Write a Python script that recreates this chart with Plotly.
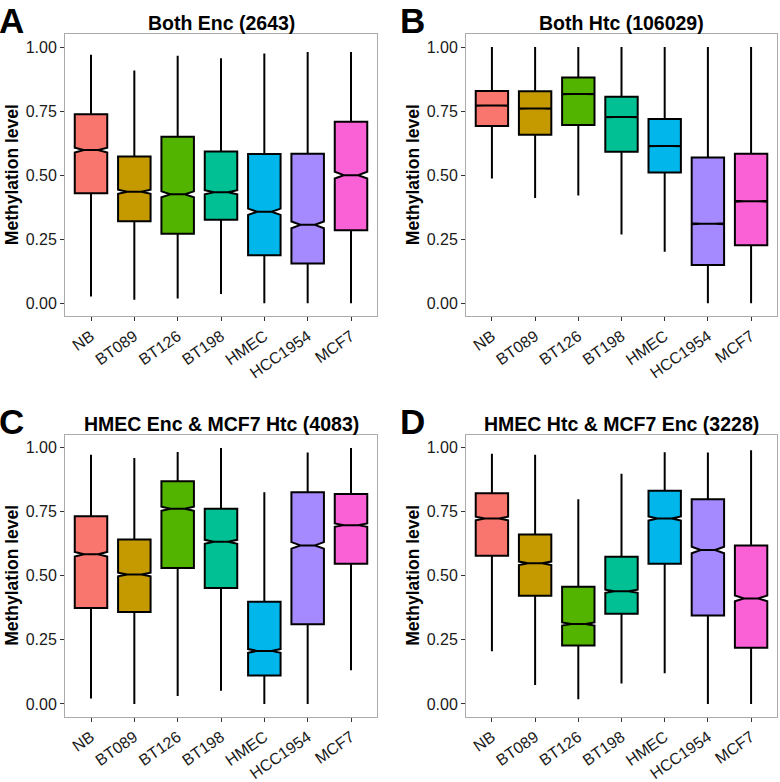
import math
import plotly.graph_objects as go

categories = ["NB", "BT089", "BT126", "BT198", "HMEC", "HCC1954", "MCF7"]
colors = ["#F8766D", "#C49A00", "#53B400", "#00C094", "#00B6EB", "#A58AFF", "#FB61D7"]

panel_titles = ["Both Enc (2643)", "Both Htc (106029)",
                "HMEC Enc & MCF7 Htc (4083)", "HMEC Htc & MCF7 Enc (3228)"]
panel_letters = ["A", "B", "C", "D"]
panel_n = [2643, 106029, 4083, 3228]

# Panel A
a_low = [0.026, 0.013, 0.018, 0.036, 0.0, 0.0, 0.0]
a_q1 = [0.429, 0.320, 0.271, 0.326, 0.187, 0.155, 0.285]
a_med = [0.598, 0.435, 0.425, 0.433, 0.357, 0.306, 0.500]
a_q3 = [0.738, 0.573, 0.650, 0.592, 0.583, 0.584, 0.709]
a_up = [0.970, 0.909, 0.966, 0.956, 0.975, 0.981, 0.981]

# Panel B
b_low = [0.487, 0.411, 0.421, 0.268, 0.201, 0.0, 0.0]
b_q1 = [0.692, 0.658, 0.696, 0.591, 0.510, 0.149, 0.226]
b_med = [0.772, 0.760, 0.817, 0.727, 0.614, 0.310, 0.398]
b_q3 = [0.829, 0.828, 0.881, 0.806, 0.719, 0.569, 0.584]
b_up = [1.0, 1.0, 1.0, 1.0, 1.0, 1.0, 1.0]

# Panel C
c_low = [0.021, 0.0, 0.031, 0.051, 0.0, 0.0, 0.131]
c_q1 = [0.374, 0.359, 0.531, 0.453, 0.111, 0.311, 0.547]
c_med = [0.584, 0.505, 0.762, 0.633, 0.207, 0.619, 0.698]
c_q3 = [0.733, 0.642, 0.869, 0.762, 0.399, 0.826, 0.820]
c_up = [0.973, 0.960, 0.984, 0.999, 0.826, 0.982, 0.999]

# Panel D
d_low = [0.206, 0.074, 0.018, 0.080, 0.120, 0.0, 0.0]
d_q1 = [0.578, 0.422, 0.228, 0.352, 0.547, 0.345, 0.219]
d_med = [0.724, 0.549, 0.312, 0.440, 0.724, 0.601, 0.412]
d_q3 = [0.823, 0.661, 0.457, 0.575, 0.832, 0.799, 0.619]
d_up = [0.977, 0.973, 0.799, 0.899, 0.983, 0.982, 0.990]

panels = [
    (a_low, a_q1, a_med, a_q3, a_up),
    (b_low, b_q1, b_med, b_q3, b_up),
    (c_low, c_q1, c_med, c_q3, c_up),
    (d_low, d_q1, d_med, d_q3, d_up),
]

W, H = 780, 782
FONT = "Liberation Sans, Arial, sans-serif"

# pixel layout of the panels (left, right, top, bottom)
boxes_px = [(65, 377, 34.3, 316), (466, 777, 34.3, 316),
            (65, 377, 435, 716.7), (466, 777, 435, 716.7)]

fig = go.Figure()
annotations = []
for p, (low, q1, med, q3, up) in enumerate(panels):
    ax = "" if p == 0 else str(p + 1)
    for i, cat in enumerate(categories):
        span = 1.58 * (q3[i] - q1[i]) / math.sqrt(panel_n[p])
        fig.add_trace(go.Box(
            x=[cat], q1=[q1[i]], median=[med[i]], q3=[q3[i]],
            lowerfence=[low[i]], upperfence=[up[i]],
            notched=True, notchspan=[span], notchwidth=0.28,
            width=0.75, whiskerwidth=0,
            fillcolor=colors[i], line=dict(color="black", width=2),
            boxpoints=False, showlegend=False, hoverinfo="skip",
            xaxis="x" + ax, yaxis="y" + ax,
        ))
    l, r, t, b = boxes_px[p]
    xd = [l / W, r / W]
    yd = [1 - b / H, 1 - t / H]
    common = dict(showline=True, mirror=True, linecolor="#ABABAB", linewidth=1,
                  showgrid=False, zeroline=False, ticks="outside", ticklen=4,
                  tickwidth=1, tickcolor="#333333", automargin=False,
                  tickfont=dict(family=FONT, size=16, color="#1a1a1a"))
    fig.update_layout(**{
        "xaxis" + ax: dict(domain=xd, anchor="y" + ax, type="category",
                           categoryorder="array", categoryarray=categories,
                           range=[-0.6, 6.6], tickangle=-35, **common),
        "yaxis" + ax: dict(domain=yd, anchor="x" + ax, range=[-0.05, 1.05],
                           tickvals=[0, 0.25, 0.5, 0.75, 1.0],
                           ticktext=["0.00", "0.25", "0.50", "0.75", "1.00"],
                           **common),
    })
    cx = (l + r) / 2
    annotations.append(dict(text="<b>%s</b>" % panel_titles[p], x=cx / W, y=1 - (t - 11) / H,
                            xref="paper", yref="paper", xanchor="center", yanchor="middle",
                            showarrow=False, font=dict(family=FONT, size=19.5, color="black")))
    annotations.append(dict(text="<b>Methylation level</b>", x=(l - 53) / W, y=1 - ((t + b) / 2) / H,
                            xref="paper", yref="paper", xanchor="center", yanchor="middle",
                            textangle=-90, showarrow=False,
                            font=dict(family=FONT, size=17.5, color="black")))
    annotations.append(dict(text="<b>%s</b>" % panel_letters[p], x=(l - 67) / W,
                            y=1 - (t - 34.3) / H,
                            xref="paper", yref="paper", xanchor="left", yanchor="top",
                            borderpad=0, showarrow=False,
                            font=dict(family=FONT, size=35, color="black")))

fig.update_layout(width=W, height=H, margin=dict(l=0, r=0, t=0, b=0, autoexpand=False),
                  paper_bgcolor="white", plot_bgcolor="white",
                  boxmode="overlay", annotations=annotations)

fig.write_html("out.html", config={"displayModeBar": False},
               post_script="document.body.style.margin='0px';document.body.style.overflow='hidden';")
